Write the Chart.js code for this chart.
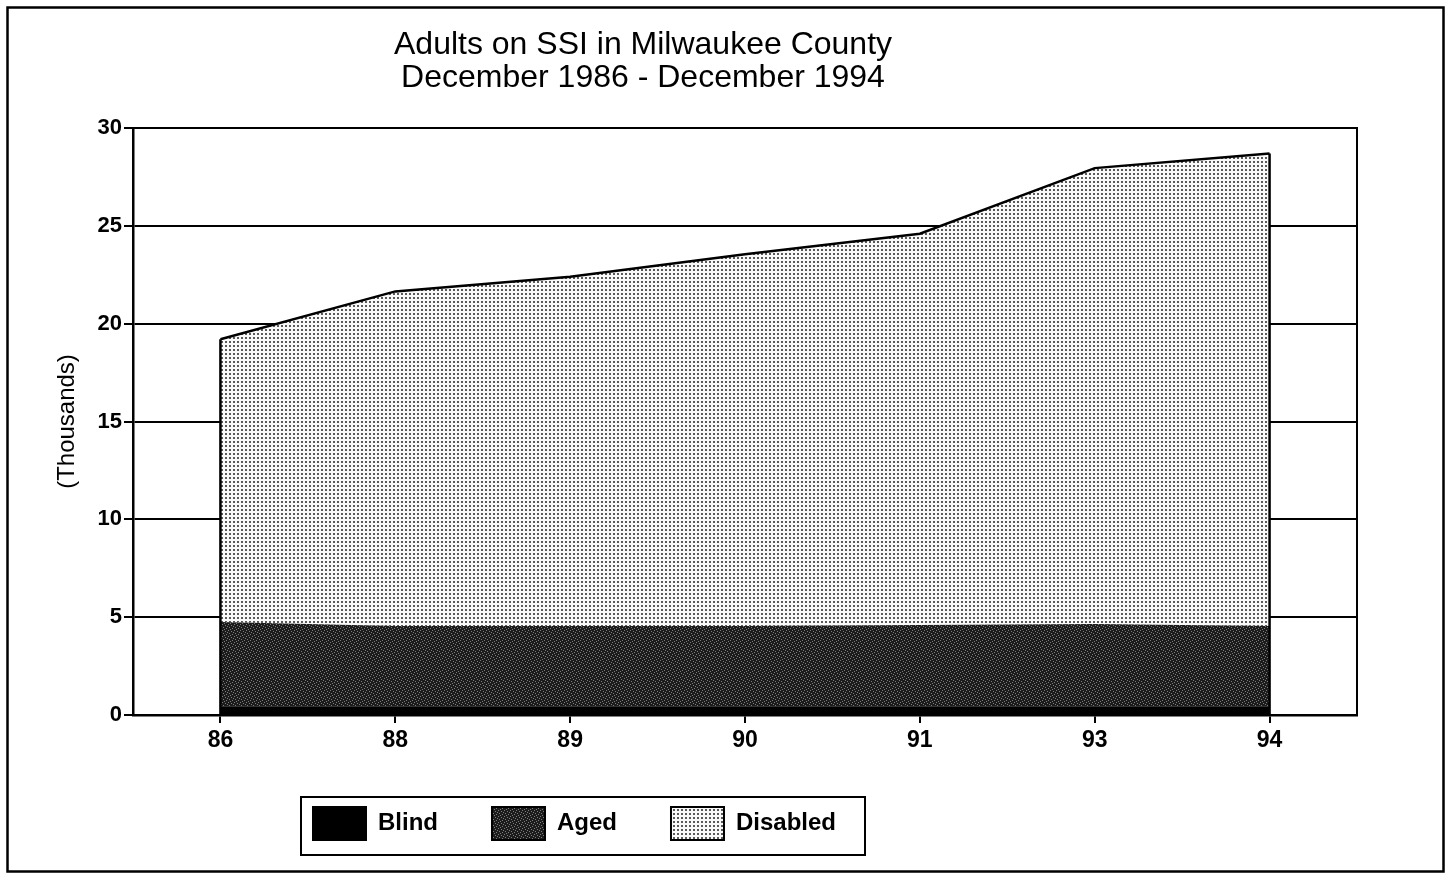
<!DOCTYPE html>
<html>
<head>
<meta charset="utf-8">
<title>Adults on SSI in Milwaukee County</title>
<script src="https://cdn.jsdelivr.net/npm/chart.js@4.4.1/dist/chart.umd.min.js"></script>
<style>
  html, body { margin: 0; padding: 0; background: #fff; }
  canvas { display: block; }
</style>
</head>
<body>
<canvas id="ssi" width="1453" height="874"></canvas>
<script>
const years = ['86', '88', '89', '90', '91', '93', '94'];
const blind = [0.45, 0.45, 0.45, 0.45, 0.45, 0.45, 0.45];
const aged = [4.3, 4.1, 4.1, 4.1, 4.15, 4.2, 4.1];
const disabled = [14.45, 17.1, 17.85, 19.0, 20.0, 23.3, 24.15];
const seriesNames = ['Blind', 'Aged', 'Disabled'];
const titleLines = ['Adults on SSI in Milwaukee County', 'December 1986 - December 1994'];
const axisTitle = '(Thousands)';

Chart.defaults.font.family = '"Liberation Sans", Arial, Helvetica, sans-serif';
Chart.defaults.color = '#000';

// small tiles to imitate the printed screens
function makeTile(size, bg, ink, spots) {
    const c = document.createElement('canvas');
    c.width = c.height = size;
    const g = c.getContext('2d');
    g.fillStyle = bg;
    g.fillRect(0, 0, size, size);
    g.fillStyle = ink;
    spots.forEach(s => g.fillRect(s[0], s[1], s[2] || 1, s[3] || 1));
    return g.createPattern(c, 'repeat');
}
const ctx = document.getElementById('ssi').getContext('2d');
const dotScreen = makeTile(4, '#fafafa', '#5a5a5a', [[1, 1, 2, 2]]);
const agedScreen = makeTile(6, '#1c1c1c', '#7c7c7c', [[0, 0], [3, 1], [5, 2], [1, 3], [4, 4], [2, 5]]);

const placeBlocks = {
    id: 'placeBlocks',
    afterLayout(chart) {
        const t = chart.titleBlock;
        t.left = 243; t.right = 1043; t.width = 800;
        const lg = chart.legend;
        const pad = lg.options.labels.padding;
        lg.left = 313 - pad;
        lg.top = 807 - pad;
        lg.right = chart.width;
        lg.bottom = chart.height;
        lg.width = lg.right - lg.left;
        lg.height = lg.bottom - lg.top;
    }
};

const outlines = {
    id: 'outlines',
    beforeDraw(chart) {
        const c = chart.ctx;
        c.save();
        c.fillStyle = '#fff';
        c.fillRect(0, 0, chart.width, chart.height);
        c.restore();
    },
    afterDatasetsDraw(chart) {
        const c = chart.ctx;
        const a = chart.chartArea;
        const base = chart.scales.y.getPixelForValue(0);
        const pts = chart.getDatasetMeta(2).data;
        c.save();
        c.strokeStyle = '#000';
        c.lineWidth = 2.5;
        [pts[0], pts[pts.length - 1]].forEach(p => {
            c.beginPath();
            c.moveTo(p.x, p.y);
            c.lineTo(p.x, base);
            c.stroke();
        });
        c.lineWidth = 2;
        c.strokeRect(a.left, a.top, a.width, a.height);
        c.restore();
    },
    afterDraw(chart) {
        const c = chart.ctx;
        c.save();
        c.strokeStyle = '#000';
        c.lineWidth = 2;
        c.strokeRect(301, 797, 564, 58);
        c.lineWidth = 2.5;
        c.strokeRect(7.5, 7.5, 1436, 864);
        c.restore();
    }
};

new Chart(ctx, {
    type: 'line',
    data: {
        labels: years,
        datasets: [
            { label: seriesNames[0], data: blind, fill: 'origin', backgroundColor: '#000', borderWidth: 0 },
            { label: seriesNames[1], data: aged, fill: '-1', backgroundColor: agedScreen, borderWidth: 0 },
            { label: seriesNames[2], data: disabled, fill: '-1', backgroundColor: dotScreen, borderColor: '#000', borderWidth: 2.5 }
        ]
    },
    options: {
        responsive: false,
        animation: false,
        elements: { point: { radius: 0 }, line: { tension: 0 } },
        layout: { padding: { left: 0, right: 96, top: 0, bottom: 0 } },
        scales: {
            x: {
                offset: true,
                grid: { offset: false, drawOnChartArea: false, drawTicks: true, tickLength: 8, color: '#000', lineWidth: 2 },
                border: { display: true, color: '#000', width: 2.5 },
                ticks: { font: { size: 23, weight: 'bold' }, padding: 4, color: '#000' },
                afterFit(s) { s.height = 62; }
            },
            y: {
                stacked: true,
                min: 0,
                max: 30,
                ticks: { stepSize: 5, font: { size: 22, weight: 'bold' }, padding: 2, color: '#000' },
                grid: { color: '#000', lineWidth: 2, tickLength: 9 },
                border: { display: true, color: '#000', width: 2.5 },
                title: { display: true, text: axisTitle, font: { size: 24 }, padding: { top: 53, bottom: 0 } },
                afterFit(s) { s.width = 133; }
            }
        },
        plugins: {
            title: {
                display: true,
                text: titleLines,
                font: { size: 32, weight: 'normal', lineHeight: 33 / 32 },
                padding: { top: 28.5, bottom: 33.5 },
                color: '#000'
            },
            legend: {
                position: 'bottom',
                align: 'start',
                labels: {
                    boxWidth: 53,
                    boxHeight: 33,
                    padding: 54,
                    font: { size: 24, weight: 'bold' },
                    color: '#000',
                    generateLabels(chart) {
                        const items = Chart.defaults.plugins.legend.labels.generateLabels(chart);
                        items.forEach(it => { it.strokeStyle = '#000'; it.lineWidth = 2; });
                        return items;
                    }
                }
            },
            tooltip: { enabled: false }
        }
    },
    plugins: [placeBlocks, outlines]
});
</script>
</body>
</html>
